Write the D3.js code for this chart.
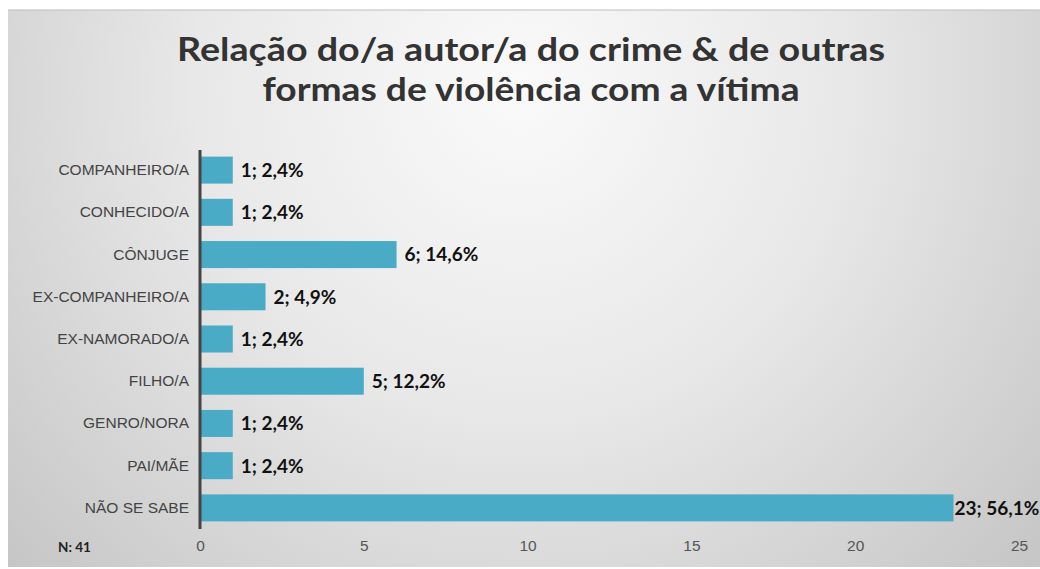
<!DOCTYPE html>
<html><head><meta charset="utf-8">
<script src="https://cdn.jsdelivr.net/npm/d3@7"></script>
<style>html,body{margin:0;padding:0;background:#fff;}svg{display:block;}</style>
</head><body>
<script>
const categories = ["COMPANHEIRO/A","CONHECIDO/A","CÔNJUGE","EX-COMPANHEIRO/A","EX-NAMORADO/A","FILHO/A","GENRO/NORA","PAI/MÃE","NÃO SE SABE"];
const counts = [1,1,6,2,1,5,1,1,23];
const percents = ["2,4%","2,4%","14,6%","4,9%","2,4%","12,2%","2,4%","2,4%","56,1%"];
const xTicks = [0,5,10,15,20,25];
const titleLines = ["Relação do/a autor/a do crime & de outras","formas de violência com a vítima"];
const note = "N: 41";

const W=1040,H=569;
const svg=d3.select("body").append("svg").attr("width",W).attr("height",H);
const defs=svg.append("defs");
const rg=defs.append("radialGradient").attr("id","bg").attr("gradientUnits","userSpaceOnUse")
  .attr("cx",520).attr("cy",90).attr("r",720);
rg.append("stop").attr("offset","0").attr("stop-color","#fafafa");
rg.append("stop").attr("offset","0.45").attr("stop-color","#e8e8e8");
rg.append("stop").attr("offset","1").attr("stop-color","#c4c4c4");
svg.append("rect").attr("x",8).attr("y",10).attr("width",W-8).attr("height",H-12).attr("fill","url(#bg)");
svg.append("line").attr("x1",8).attr("x2",W).attr("y1",10).attr("y2",10).attr("stroke","#bdbdbd").attr("stroke-width",1);

const x=d3.scaleLinear().domain([0,25]).range([200,1019]);
const y=d3.scaleBand().domain(categories).range([149,529]).paddingInner(0.36).paddingOuter(0.18);

// title
const tl=[708,537];
svg.append("g").selectAll("text").data(titleLines).join("text")
  .attr("x",531).attr("y",(d,i)=>61+i*40).attr("text-anchor","middle")
  .attr("font-family","Lato, sans-serif").attr("font-weight",700).attr("font-size",33)
  .attr("textLength",(d,i)=>tl[i]).attr("lengthAdjust","spacingAndGlyphs")
  .attr("fill","#333").text(d=>d);

// bars
svg.append("g").selectAll("rect").data(counts).join("rect")
  .attr("x",x(0)).attr("y",(d,i)=>y(categories[i]))
  .attr("width",d=>x(d)-x(0)).attr("height",y.bandwidth()).attr("fill","#4aabc6");

// value labels
svg.append("g").selectAll("text").data(counts).join("text")
  .attr("x",(d,i)=>x(d)+(d>20?1:8)).attr("y",(d,i)=>y(categories[i])+y.bandwidth()/2)
  .attr("dy","0.36em").attr("font-family","Lato, sans-serif").attr("font-weight",700)
  .attr("font-size",19).attr("fill","#111").text((d,i)=>d+"; "+percents[i]);

// y axis
const ya=svg.append("g").attr("transform",`translate(${x(0)},0)`).call(d3.axisLeft(y).tickSize(0).tickPadding(11));
ya.select(".domain").attr("d",`M0,150V529`).attr("stroke","#444").attr("stroke-width",3);
ya.selectAll("text").attr("font-family","Liberation Sans, Arial, sans-serif").attr("font-size",15.5).attr("fill","#444");

// x axis
const xa=svg.append("g").attr("transform","translate(0,535)").call(d3.axisBottom(x).tickValues(xTicks).tickSize(0).tickPadding(5));
xa.select(".domain").remove();
xa.selectAll("text").attr("font-family","Liberation Sans, Arial, sans-serif").attr("font-size",15.5).attr("fill","#555");

svg.append("text").attr("x",58).attr("y",552).attr("font-family","Lato, sans-serif").attr("font-weight",700)
  .attr("font-size",13.5).attr("fill","#222").text(note);
</script>
</body></html>
